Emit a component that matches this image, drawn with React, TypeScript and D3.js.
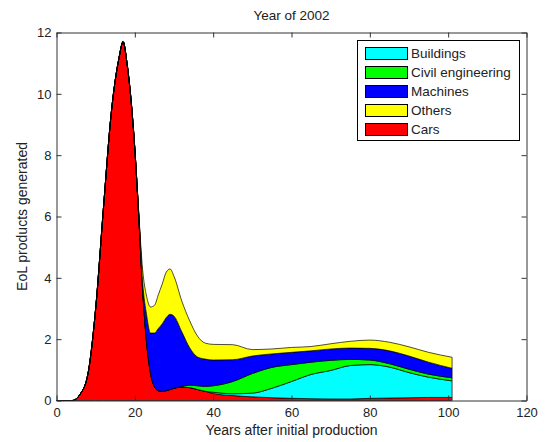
import React, { useEffect, useRef } from "react";
import * as d3 from "d3";

// years after initial production (sample points)
const years = [0, 4, 6, 8, 10, 12, 14, 16, 17, 18, 20, 21, 22, 23, 24, 25, 26, 27, 28, 29, 30, 32, 34, 36, 38, 40, 45, 50, 55, 60, 65, 70, 75, 80, 85, 90, 95, 101];

const cars = [0, 0, 0.2, 0.85, 3.0, 6.3, 9.4, 11.2, 11.7, 11.0, 8.2, 6.0, 3.6, 1.9, 0.9, 0.45, 0.32, 0.3, 0.32, 0.36, 0.4, 0.44, 0.42, 0.36, 0.3, 0.23, 0.16, 0.12, 0.09, 0.07, 0.06, 0.05, 0.05, 0.07, 0.08, 0.09, 0.1, 0.1];
const buildings = [0, 0, 0, 0, 0, 0, 0, 0, 0, 0, 0, 0, 0, 0, 0, 0, 0, 0, 0, 0, 0, 0, 0, 0, 0, 0.04, 0.06, 0.12, 0.31, 0.55, 0.79, 0.93, 1.09, 1.1, 1.01, 0.82, 0.66, 0.54];
const civilEngineering = [0, 0, 0, 0, 0, 0, 0, 0, 0, 0, 0, 0, 0, 0, 0, 0, 0, 0, 0, 0, 0, 0.02, 0.08, 0.12, 0.16, 0.21, 0.4, 0.64, 0.68, 0.55, 0.4, 0.33, 0.2, 0.15, 0.11, 0.11, 0.1, 0.1];
const machines = [0, 0, 0, 0, 0, 0, 0, 0, 0, 0, 0, 0.1, 0.25, 0.9, 1.3, 1.75, 2.03, 2.2, 2.38, 2.45, 2.35, 1.78, 1.22, 0.94, 0.89, 0.84, 0.71, 0.57, 0.44, 0.4, 0.37, 0.37, 0.37, 0.38, 0.42, 0.43, 0.39, 0.31];
const others = [0, 0, 0, 0, 0, 0, 0, 0, 0, 0, 0, 0, 0.4, 0.6, 0.85, 0.9, 1.1, 1.3, 1.48, 1.48, 1.3, 1.0, 0.88, 0.68, 0.52, 0.51, 0.49, 0.21, 0.16, 0.16, 0.14, 0.17, 0.22, 0.27, 0.28, 0.3, 0.32, 0.36];

const xTicks = [0, 20, 40, 60, 80, 100, 120];
const yTicks = [0, 2, 4, 6, 8, 10, 12];

// drawing order from the bottom up
const stackKeys = ["cars", "buildings", "civil", "machines", "others"];
const legendKeys = ["buildings", "civil", "machines", "others", "cars"];
const labels = {
  buildings: "Buildings",
  civil: "Civil engineering",
  machines: "Machines",
  others: "Others",
  cars: "Cars",
};
const colors = {
  buildings: "#00ffff",
  civil: "#00ff00",
  machines: "#0000ff",
  others: "#ffff00",
  cars: "#ff0000",
};

const font = "'Liberation Sans', Arial, sans-serif";

const App = () => {
  const ref = useRef<SVGSVGElement>(null);

  useEffect(() => {
    const svg = d3.select(ref.current);
    svg.selectAll("*").remove();

    const x = d3.scaleLinear().domain([0, 120]).range([56.5, 526.5]);
    const y = d3.scaleLinear().domain([0, 12]).range([400.5, 32.5]);

    const table = years.map((yr, i) => ({
      year: yr,
      cars: cars[i],
      buildings: buildings[i],
      civil: civilEngineering[i],
      machines: machines[i],
      others: others[i],
    }));

    const layers = d3.stack().keys(stackKeys)(table as any);

    const area = d3
      .area<any>()
      .x((d) => x(d.data.year))
      .y0((d) => y(d[0]))
      .y1((d) => y(d[1]))
      .curve(d3.curveMonotoneX);

    svg
      .append("g")
      .selectAll("path")
      .data(layers)
      .join("path")
      .attr("d", area as any)
      .attr("fill", (d: any) => colors[d.key])
      .attr("stroke", "#000")
      .attr("stroke-width", 0.7)
      .attr("stroke-linejoin", "round");

    // axes, ticks inward on all four sides
    const styleAxis = (g) => {
      g.select(".domain").attr("stroke", "#333");
      g.selectAll(".tick line").attr("stroke", "#333");
      g.selectAll("text")
        .attr("fill", "#222")
        .style("font-family", font)
        .style("font-size", "13px");
    };

    svg
      .append("g")
      .attr("transform", "translate(0,400.5)")
      .call(d3.axisBottom(x).tickValues(xTicks).tickSize(-5).tickSizeOuter(0).tickPadding(7))
      .call(styleAxis);
    svg
      .append("g")
      .attr("transform", "translate(0,32.5)")
      .call(d3.axisTop(x).tickValues(xTicks).tickSize(-5).tickSizeOuter(0).tickFormat(() => ""))
      .call(styleAxis);
    svg
      .append("g")
      .attr("transform", "translate(56.5,0)")
      .call(d3.axisLeft(y).tickValues(yTicks).tickSize(-5).tickSizeOuter(0).tickPadding(5))
      .call(styleAxis);
    svg
      .append("g")
      .attr("transform", "translate(526.5,0)")
      .call(d3.axisRight(y).tickValues(yTicks).tickSize(-5).tickSizeOuter(0).tickFormat(() => ""))
      .call(styleAxis);

    const text = (tx, ty, s, size, rotate = false) =>
      svg
        .append("text")
        .attr("transform", `translate(${tx},${ty})${rotate ? " rotate(-90)" : ""}`)
        .attr("text-anchor", "middle")
        .attr("fill", "#222")
        .style("font-family", font)
        .style("font-size", size)
        .text(s);

    text(291.5, 20, "Year of 2002", "13.5px");
    text(291.5, 435, "Years after initial production", "14px");
    text(27, 216.5, "EoL products generated", "14px", true);

    // legend
    const legend = svg.append("g");
    legend
      .append("rect")
      .attr("x", 357.5)
      .attr("y", 40.5)
      .attr("width", 162)
      .attr("height", 100)
      .attr("fill", "#fff")
      .attr("stroke", "#000");

    legendKeys.forEach((k, i) => {
      const cy = 53.5 + i * 19;
      legend
        .append("rect")
        .attr("x", 365.5)
        .attr("y", cy - 6)
        .attr("width", 42)
        .attr("height", 12)
        .attr("fill", colors[k])
        .attr("stroke", "#000");
      legend
        .append("text")
        .attr("x", 411)
        .attr("y", cy)
        .attr("dy", "0.35em")
        .attr("fill", "#222")
        .style("font-family", font)
        .style("font-size", "13.5px")
        .text(labels[k]);
    });
  }, []);

  return (
    <svg
      ref={ref}
      width={547}
      height={442}
      style={{ position: "absolute", left: 0, top: 0, background: "#fff" }}
    />
  );
};

export default App;
